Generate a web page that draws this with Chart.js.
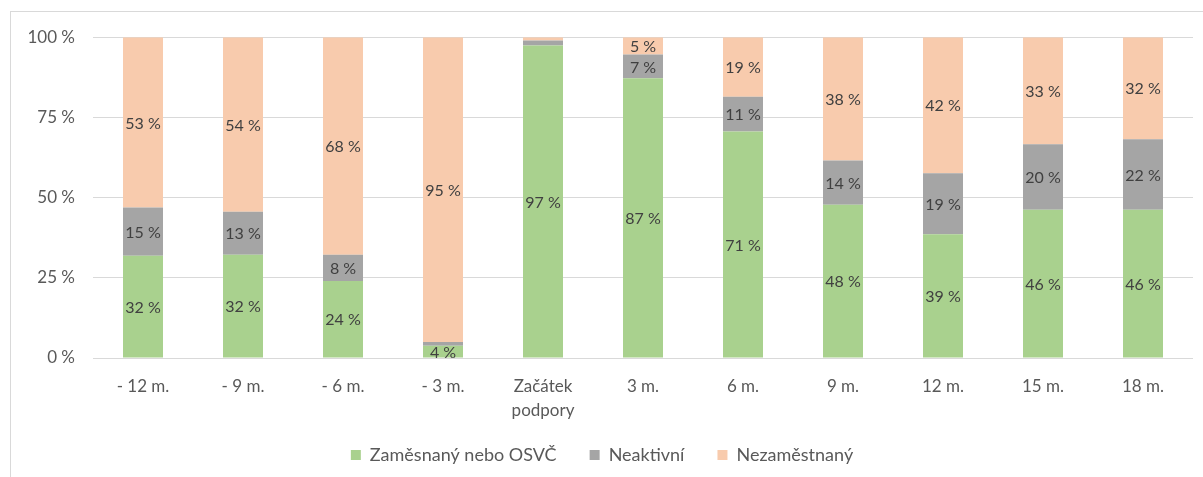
<!DOCTYPE html>
<html>
<head>
<meta charset="utf-8">
<script src="https://cdn.jsdelivr.net/npm/chart.js@4"></script>
<style>
  html, body { margin: 0; padding: 0; background: #fff; overflow: hidden; }
  #frame { position: absolute; left: 10px; top: 11px; width: 1300px; height: 600px;
           border: 1px solid #d9d9d9; }
  #wrap { position: absolute; left: 0; top: -3px; width: 1192px; height: 469px; }
</style>
</head>
<body>
<div id="frame"><div id="wrap"><canvas id="myChart"></canvas></div></div>
<script>
// categories (months relative to start of support)
const labels = ['- 12 m.', '- 9 m.', '- 6 m.', '- 3 m.', ['Začátek', 'podpory'], '3 m.', '6 m.', '9 m.', '12 m.', '15 m.', '18 m.'];

// shares in %
const employed   = [31.9, 32.2, 24.0, 3.8, 97.4, 87.2, 70.6, 47.8, 38.6, 46.2, 46.2];
const inactive   = [15.0, 13.4,  8.2, 1.2,  1.6,  7.4, 10.8, 13.8, 19.0, 20.4, 22.0];
const unemployed = [53.1, 54.4, 67.8, 95.0, 1.0,  5.4, 18.6, 38.4, 42.4, 33.4, 31.8];

const yTicks = [0, 25, 50, 75, 100];

const FONT = 'Lato, "Open Sans", sans-serif';

// draw value labels in the middle of each segment
const segmentLabels = {
    id: 'segmentLabels',
    afterDatasetsDraw(chart) {
        const ctx = chart.ctx;
        ctx.save();
        ctx.font = '16px ' + FONT;
        ctx.fillStyle = '#404040';
        ctx.textAlign = 'center';
        ctx.textBaseline = 'middle';
        chart.data.datasets.forEach((ds, i) => {
            const meta = chart.getDatasetMeta(i);
            meta.data.forEach((bar, j) => {
                const v = ds.data[j];
                if (v < 3) return;
                const yMid = (bar.y + bar.base) / 2;
                ctx.fillText(Math.round(v) + ' %', bar.x, yMid + 1);
            });
        });
        ctx.restore();
    }
};

const ctx = document.getElementById('myChart').getContext('2d');
new Chart(ctx, {
    type: 'bar',
    data: {
        labels: labels,
        datasets: [
            { label: 'Zaměsnaný nebo OSVČ', data: employed, backgroundColor: '#a9d18e' },
            { label: 'Neaktivní', data: inactive, backgroundColor: '#a5a5a5' },
            { label: 'Nezaměstnaný', data: unemployed, backgroundColor: '#f8cbad' }
        ]
    },
    options: {
        responsive: true,
        maintainAspectRatio: false,
        animation: false,
        layout: { padding: { top: 20, right: 10, left: 0, bottom: 4 } },
        datasets: { bar: { barPercentage: 0.8, categoryPercentage: 0.5 } },
        plugins: {
            legend: {
                position: 'bottom',
                labels: {
                    boxWidth: 10,
                    boxHeight: 10,
                    padding: 10,
                    color: '#595959',
                    font: { family: FONT, size: 18 },
                    generateLabels: chart => {
                        const items = Chart.defaults.plugins.legend.labels.generateLabels(chart);
                        // wider gaps between legend entries
                        items.forEach((it, i) => { if (i < items.length - 1) it.text += '     '; });
                        return items;
                    }
                }
            },
            tooltip: { enabled: false }
        },
        scales: {
            x: {
                stacked: true,
                grid: { display: false },
                border: { display: false },
                ticks: { color: '#595959', padding: 8, font: { family: FONT, size: 17, lineHeight: 1.45 } },
                afterFit: s => { s.height = 78; }
            },
            y: {
                stacked: true,
                min: 0,
                max: 100,
                afterBuildTicks: s => { s.ticks = yTicks.map(v => ({ value: v })); },
                grid: { color: '#d9d9d9', drawTicks: false },
                border: { display: false },
                ticks: {
                    color: '#595959',
                    padding: 18,
                    font: { family: FONT, size: 17 },
                    callback: v => v + ' %'
                },
                afterFit: s => { s.width = 82; }
            }
        }
    },
    plugins: [segmentLabels]
});
</script>
</body>
</html>
